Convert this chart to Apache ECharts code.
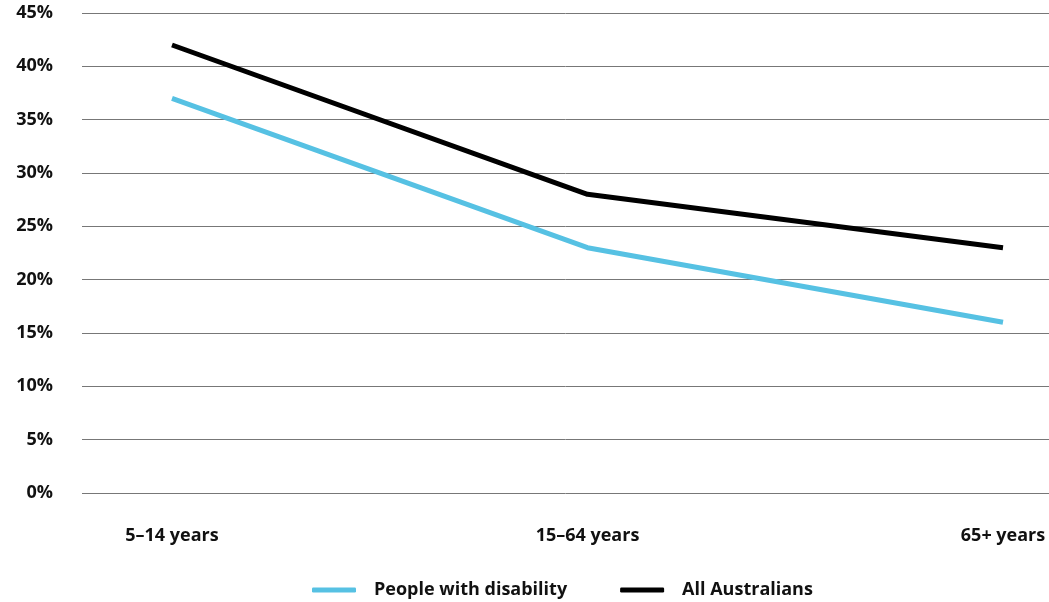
<!DOCTYPE html>
<html><head><meta charset="utf-8">
<script src="https://cdn.jsdelivr.net/npm/echarts@6/dist/echarts.min.js"></script>
<style>html,body{margin:0;padding:0;background:#fff}#c{width:1049px;height:602px}</style>
</head><body><div id="c"></div>
<script>
const categories = ['5–14 years', '15–64 years', '65+ years'];
const disability = [37, 23, 16];
const allAustralians = [42, 28, 23];
const yTicks = [0, 5, 10, 15, 20, 25, 30, 35, 40, 45];

const font = 'Open Sans';
const chart = echarts.init(document.getElementById('c'), null, {renderer: 'canvas'});
const toPts = arr => arr.map((v, i) => [i, v]);
chart.setOption({
  animation: false,
  grid: {left: 82, right: 0, top: 13, bottom: 109},
  xAxis: {
    type: 'value', min: -0.2166, max: 2.1107,
    axisLine: {show: false}, axisTick: {show: false}, splitLine: {show: false},
    axisLabel: {
      customValues: [0, 1, 2],
      formatter: v => categories[Math.round(v)] || '',
      fontFamily: font, fontWeight: 'bold', fontSize: 18, color: '#111', margin: 34
    }
  },
  yAxis: {
    type: 'value', min: 0, max: 45, interval: 5,
    axisLine: {show: false}, axisTick: {show: false},
    splitLine: {lineStyle: {color: '#777', width: 1}},
    axisLabel: {formatter: '{value}%', fontFamily: font, fontWeight: 'bold', fontSize: 18, color: '#111', margin: 29}
  },
  legend: {
    bottom: -2, left: 307, icon: 'roundRect', itemWidth: 44, itemHeight: 5, itemGap: 53,
    textStyle: {fontFamily: font, fontWeight: 'bold', fontSize: 18, color: '#111', padding: [0, 0, 0, 13]},
    data: ['People with disability', 'All Australians']
  },
  series: [
    {name: 'People with disability', type: 'line', data: toPts(disability), symbol: 'none',
     lineStyle: {color: '#56c1e3', width: 5}, itemStyle: {color: '#56c1e3'}},
    {name: 'All Australians', type: 'line', data: toPts(allAustralians), symbol: 'none',
     lineStyle: {color: '#000', width: 5}, itemStyle: {color: '#000'}}
  ]
});
</script></body></html>
